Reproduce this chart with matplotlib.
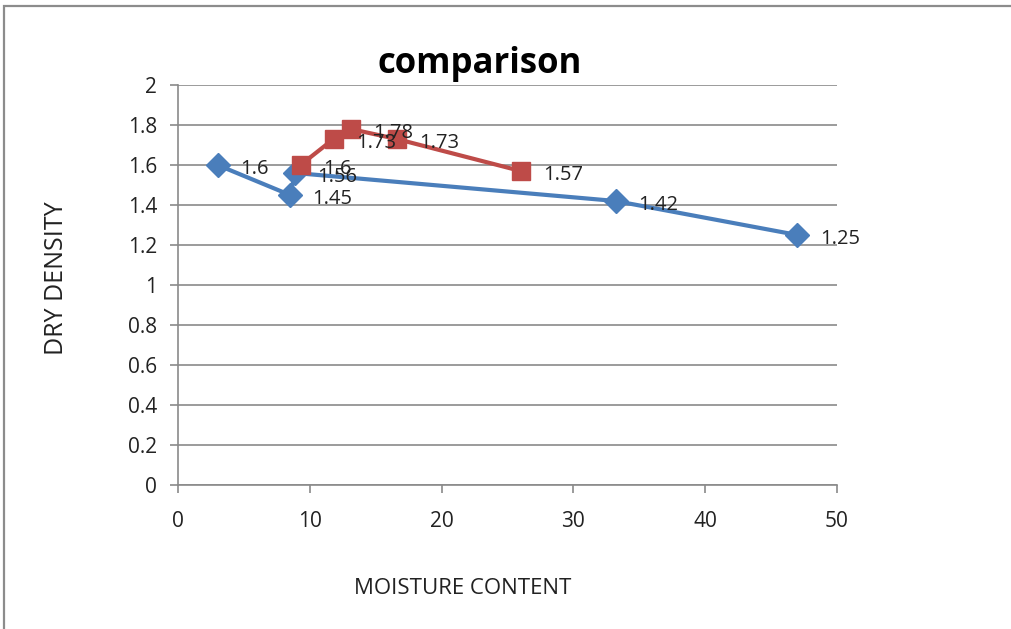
import matplotlib
matplotlib.use("Agg")
import matplotlib.pyplot as plt
from matplotlib.patches import Rectangle

# Data
blue_x = [3, 8.5, 8.9, 33.2, 47]
blue_y = [1.6, 1.45, 1.56, 1.42, 1.25]
red_x = [9.3, 11.8, 13.1, 16.6, 26]
red_y = [1.6, 1.73, 1.78, 1.73, 1.57]
x_ticks = [0, 10, 20, 30, 40, 50]
y_ticks = [0, 0.2, 0.4, 0.6, 0.8, 1, 1.2, 1.4, 1.6, 1.8, 2]
y_tick_labels = ["0", "0.2", "0.4", "0.6", "0.8", "1", "1.2", "1.4", "1.6", "1.8", "2"]

plt.rcParams['font.family'] = ['Open Sans', 'DejaVu Sans']

W, H = 1012, 629
fig = plt.figure(figsize=(W / 100, H / 100), dpi=100)
fig.patch.set_facecolor('white')

# chart border (partially cut off)
fig.add_artist(Rectangle((4 / W, -0.05), 1.2, 1 - 6 / H + 0.05, transform=fig.transFigure,
                         fill=False, edgecolor='#8c8c8c', linewidth=1.6))

ax = fig.add_axes([178 / W, (H - 485) / H, 659 / W, 400 / H])
ax.set_xlim(0, 50)
ax.set_ylim(0, 2)

gray = '#8a8a8a'
for s in ['top', 'right']:
    ax.spines[s].set_visible(False)
ax.spines['left'].set_color(gray)
ax.spines['bottom'].set_color(gray)
ax.spines['left'].set_linewidth(1.2)
ax.spines['bottom'].set_linewidth(1.2)
ax.set_axisbelow(True)
ax.yaxis.grid(True, color=gray, linewidth=1.2)

ax.set_xticks(x_ticks)
ax.set_xticklabels([str(t) for t in x_ticks])
ax.set_yticks(y_ticks)
ax.set_yticklabels(y_tick_labels)
ax.tick_params(axis='both', colors=gray, labelcolor='#222222', labelsize=15, length=6, width=1.2)
ax.tick_params(axis='x', pad=13)
ax.tick_params(axis='y', pad=9)

blue = '#4a7ebb'
red = '#be4b48'
ax.plot(blue_x, blue_y, color=blue, linewidth=3, marker='D', markersize=12, zorder=3)
ax.plot(red_x, red_y, color=red, linewidth=3, marker='s', markersize=13, zorder=4)

for x, y in zip(blue_x, blue_y):
    ax.annotate(f"{y:g}", (x, y), xytext=(16, -3), textcoords='offset points',
                ha='left', va='center', fontsize=14.5, color='#222222', zorder=5)
for x, y in zip(red_x, red_y):
    ax.annotate(f"{y:g}", (x, y), xytext=(16, -3), textcoords='offset points',
                ha='left', va='center', fontsize=14.5, color='#222222', zorder=5)

fig.text(480 / W, 1 - 64 / H, "comparison", ha='center', va='center',
         fontsize=25, fontweight='bold', color='#000000')
fig.text(57 / W, 1 - 278 / H, "DRY DENSITY", ha='center', va='center', rotation=90,
         fontsize=18, color='#222222')
fig.text(463 / W, 1 - 588 / H, "MOISTURE CONTENT", ha='center', va='center',
         fontsize=16, color='#222222')

fig.savefig("out.png", dpi=100)
